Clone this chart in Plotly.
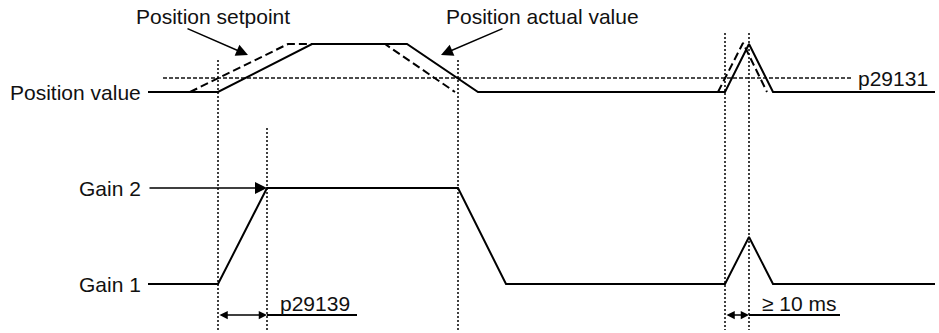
import plotly.graph_objects as go

# time axis in drawing units (left to right), signal levels in drawing units (top down)
actual_t = [148, 218, 312, 407, 478, 725, 749, 773, 935]
actual_v = [92, 92, 44, 44, 92, 92, 44, 92, 92]

setpoint_t = [190, 288, 385, 455, None, 718, 743, 767]
setpoint_v = [92, 44, 44, 92, None, 92, 43, 92]

gain_t = [148, 218, 267, 458, 506, 725, 749, 773, 935]
gain_v = [284, 284, 188, 188, 284, 284, 237, 284, 284]

threshold_t = [163, 853]
threshold_v = 78

marker_t = [218, 267, 458, 725, 749]
marker_top = [60, 128, 60, 33, 33]
marker_bottom = 330

level_labels = ["Position value", "Gain 2", "Gain 1"]
level_y = [92, 188, 284]

dim_y = 315
dims = [(218, 267, 357, "p29139"), (725, 749, 840, "≥ 10 ms")]

FONT = dict(family="Arial, Liberation Sans, sans-serif", size=21, color="#111")

fig = go.Figure()

# vertical dotted markers
vx, vy = [], []
for t, top in zip(marker_t, marker_top):
    vx += [t, t, None]
    vy += [top, marker_bottom, None]
fig.add_trace(go.Scatter(x=vx, y=vy, mode="lines",
                         line=dict(color="#111", width=1.6, dash="2px,2px")))

# threshold p29131
fig.add_trace(go.Scatter(x=threshold_t, y=[threshold_v] * 2, mode="lines",
                         line=dict(color="#111", width=1.5, dash="4px,2px")))

# position setpoint (dashed) then actual value (solid)
fig.add_trace(go.Scatter(x=setpoint_t, y=setpoint_v, mode="lines",
                         line=dict(color="black", width=2, dash="8px,4px")))
fig.add_trace(go.Scatter(x=actual_t, y=actual_v, mode="lines",
                         line=dict(color="black", width=2)))

# gain
fig.add_trace(go.Scatter(x=gain_t, y=gain_v, mode="lines",
                         line=dict(color="black", width=2)))

# dimension lines
for a, b, end, txt in dims:
    fig.add_trace(go.Scatter(x=[b, end], y=[dim_y, dim_y], mode="lines",
                             line=dict(color="black", width=2)))
    fig.add_annotation(x=b, y=dim_y, ax=a, ay=dim_y, axref="x", ayref="y",
                       text="", showarrow=True, arrowhead=2, arrowside="end+start",
                       arrowsize=1.1, arrowwidth=1.5, arrowcolor="black")
    fig.add_annotation(x=b + 11, y=dim_y - 12, text=txt, showarrow=False,
                       xanchor="left", yanchor="middle", font=FONT)

# left level labels
for lab, y in zip(level_labels, level_y):
    fig.add_annotation(x=143, y=y, text=lab, showarrow=False,
                       xanchor="right", yanchor="middle", font=FONT)

# Gain 2 arrow
fig.add_annotation(x=267, y=188, ax=148, ay=188, axref="x", ayref="y", text="",
                   showarrow=True, arrowhead=2, arrowsize=1.6, arrowwidth=1.5,
                   arrowcolor="black")

# threshold label
fig.add_annotation(x=856, y=threshold_v, text="p29131", showarrow=False,
                   xanchor="left", yanchor="middle", font=FONT)

# callouts
fig.add_annotation(x=213, y=16, text="Position setpoint", showarrow=False,
                   xanchor="center", yanchor="middle", font=FONT)
fig.add_annotation(x=248, y=55, ax=186, ay=28, axref="x", ayref="y", text="",
                   showarrow=True, arrowhead=2, arrowsize=1.6, arrowwidth=1.5,
                   arrowcolor="black")
fig.add_annotation(x=542, y=16, text="Position actual value", showarrow=False,
                   xanchor="center", yanchor="middle", font=FONT)
fig.add_annotation(x=441, y=55, ax=504, ay=28, axref="x", ayref="y", text="",
                   showarrow=True, arrowhead=2, arrowsize=1.6, arrowwidth=1.5,
                   arrowcolor="black")

fig.update_layout(
    width=939, height=333,
    margin=dict(l=0, r=0, t=0, b=0),
    paper_bgcolor="white", plot_bgcolor="white",
    showlegend=False,
    xaxis=dict(range=[0, 939], visible=False, fixedrange=True),
    yaxis=dict(range=[333, 0], visible=False, fixedrange=True),
)

# page body has a default 8px margin; drop it so the figure sits at the window corner
fig.write_html("out.html", config={"displayModeBar": False},
               post_script="document.body.style.margin='0';document.body.style.overflow='hidden';")
